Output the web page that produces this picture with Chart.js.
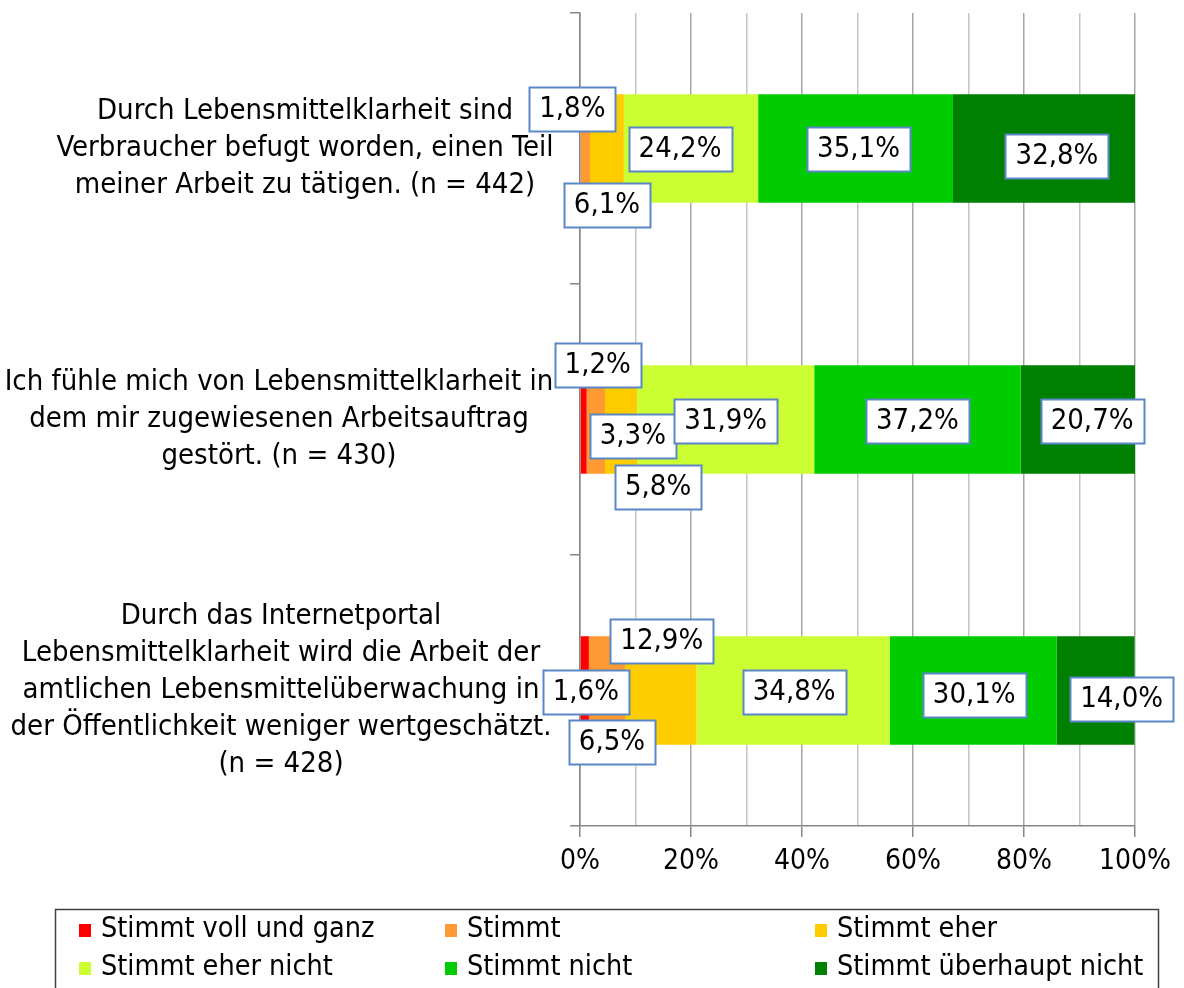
<!DOCTYPE html>
<html>
<head>
<meta charset="utf-8">
<script src="https://cdn.jsdelivr.net/npm/chart.js@4.4.1/dist/chart.umd.min.js"></script>
<style>
  body { margin: 0; background: #fff; }
  canvas { display: block; }
</style>
</head>
<body>
<canvas id="chart" width="1184" height="988"></canvas>
<script>
// Category labels (one line per array entry)
const categories = [
    ["Durch Lebensmittelklarheit sind", "Verbraucher befugt worden, einen Teil", "meiner Arbeit zu tätigen. (n = 442)"],
    ["Ich fühle mich von Lebensmittelklarheit in", "dem mir zugewiesenen Arbeitsauftrag", "gestört. (n = 430)"],
    ["Durch das Internetportal", "Lebensmittelklarheit wird die Arbeit der", "amtlichen Lebensmittelüberwachung in", "der Öffentlichkeit weniger wertgeschätzt.", "(n = 428)"]
];
const seriesNames = ["Stimmt voll und ganz", "Stimmt", "Stimmt eher", "Stimmt eher nicht", "Stimmt nicht", "Stimmt überhaupt nicht"];

// Percent values per answer, one entry per category
const stimmtVoll = [0, 1.2, 1.6];
const stimmt = [1.8, 3.3, 6.5];
const stimmtEher = [6.1, 5.8, 12.9];
const eherNicht = [24.2, 31.9, 34.8];
const stimmtNicht = [35.1, 37.2, 30.1];
const ueberhauptNicht = [32.8, 20.7, 14.0];

const xTickLabels = [0, 20, 40, 60, 80, 100];

// styling
const FONT = "'DejaVu Sans Condensed', 'Liberation Sans', sans-serif";
const colors = ["#FF0000", "#FF9933", "#FFCC00", "#CCFF33", "#00CC00", "#008000"];
// label box nudges [dx, dy] relative to segment centre (like moved Excel labels)
const labelNudge = [
    [[0, 0], [14, -55], [1, 1]],
    [[-13, -40], [37, 16], [5, 51]],
    [[0, 56], [37, 67], [1, -50]],
    [[-11, 0], [0, 1], [1, 1]],
    [[3, 0], [0, 1], [1, 4]],
    [[13, 7], [14, 1], [26, 8]]
];
// horizontal centre of each category label block
const categoryLabelCenterX = [305, 279, 281];

Chart.defaults.font.family = FONT;
Chart.defaults.color = "#000";

function formatPct(v) {
    return v.toFixed(1).replace('.', ',') + '%';
}

/**
 * Multi-line category labels, each block centred on its own x
 */
const categoryLabels = {
    id: 'categoryLabels',
    beforeDatasetsDraw(chart) {
        const ctx = chart.ctx;
        const yScale = chart.scales.y;
        const lineHeight = 37;
        ctx.save();
        ctx.font = '29px ' + FONT;
        ctx.fillStyle = '#000';
        ctx.textAlign = 'center';
        ctx.textBaseline = 'middle';
        chart.data.labels.forEach((lines, i) => {
            const cy = yScale.getPixelForValue(i);
            const top = cy - (lines.length - 1) * lineHeight / 2;
            lines.forEach((line, k) => {
                ctx.fillText(line, categoryLabelCenterX[i], top + k * lineHeight);
            });
        });
        ctx.restore();
    }
};

/**
 * Boxed value labels on top of bar segments
 */
const boxLabels = {
    id: 'boxLabels',
    afterDatasetsDraw(chart) {
        const ctx = chart.ctx;
        ctx.save();
        ctx.font = '29px ' + FONT;
        ctx.textAlign = 'center';
        ctx.textBaseline = 'middle';
        chart.data.datasets.forEach((ds, i) => {
            const meta = chart.getDatasetMeta(i);
            meta.data.forEach((bar, j) => {
                const v = ds.data[j];
                if (!v) return;
                const [dx, dy] = labelNudge[i][j];
                const cx = (bar.x + bar.base) / 2 + dx;
                const cy = bar.y + dy;
                const text = formatPct(v);
                const w = Math.round(ctx.measureText(text).width + 20);
                const h = 44;
                const left = Math.round(cx - w / 2) + 0.5;
                const top = Math.round(cy - h / 2) + 0.5;
                ctx.fillStyle = '#fff';
                ctx.fillRect(left, top, w, h);
                ctx.strokeStyle = '#5B87C6';
                ctx.lineWidth = 2;
                ctx.strokeRect(left, top, w, h);
                ctx.fillStyle = '#000';
                ctx.fillText(text, cx, cy + 1);
            });
        });
        ctx.restore();
    }
};

/**
 * Legend in a framed 3-column grid below the chart
 */
const gridLegend = {
    id: 'gridLegend',
    afterDraw(chart) {
        const ctx = chart.ctx;
        const colX = [79, 445, 815];
        const rowY = [930, 968];
        ctx.save();
        ctx.strokeStyle = '#404040';
        ctx.lineWidth = 1.5;
        ctx.strokeRect(55.5, 909.5, 1103, 100);
        ctx.font = '28.5px ' + FONT;
        ctx.textBaseline = 'middle';
        ctx.textAlign = 'left';
        chart.data.datasets.forEach((ds, i) => {
            const x = colX[i % 3];
            const y = rowY[Math.floor(i / 3)];
            ctx.fillStyle = ds.backgroundColor;
            ctx.fillRect(x, y - 6, 12, 13);
            ctx.fillStyle = '#000';
            ctx.fillText(ds.label, x + 22, y);
        });
        ctx.restore();
    }
};

const datasets = [stimmtVoll, stimmt, stimmtEher, eherNicht, stimmtNicht, ueberhauptNicht].map((values, i) => ({
    label: seriesNames[i],
    data: values,
    backgroundColor: colors[i],
    borderWidth: 0,
    barPercentage: 0.4,
    categoryPercentage: 1.0
}));

const ctx = document.getElementById('chart').getContext('2d');
new Chart(ctx, {
    type: 'bar',
    data: { labels: categories, datasets: datasets },
    plugins: [categoryLabels, boxLabels, gridLegend],
    options: {
        indexAxis: 'y',
        responsive: false,
        animation: false,
        layout: { padding: { top: 13, right: 49, bottom: 102, left: 0 } },
        plugins: {
            legend: { display: false },
            tooltip: { enabled: false }
        },
        scales: {
            x: {
                stacked: true,
                min: 0,
                max: 100,
                afterFit: scale => { scale.height = 60; scale.paddingLeft = 0; scale.paddingRight = 0; },
                border: { color: '#868686', width: 1.5 },
                grid: {
                    color: c => (c.tick && c.tick.value % 20 === 0) ? '#A6A6A6' : '#C4C4C4',
                    tickColor: c => xTickLabels.includes(c.tick.value) ? '#868686' : 'rgba(0,0,0,0)',
                    tickLength: 11,
                    lineWidth: 1.5
                },
                ticks: {
                    stepSize: 10,
                    autoSkip: false,
                    maxRotation: 0,
                    padding: 8,
                    font: { size: 28 },
                    callback: v => xTickLabels.includes(v) ? v + '%' : ''
                }
            },
            y: {
                stacked: true,
                afterFit: scale => { scale.width = 580; scale.paddingTop = 0; scale.paddingBottom = 0; },
                border: { color: '#868686', width: 1.5 },
                grid: {
                    drawOnChartArea: false,
                    offset: true,
                    tickLength: 10,
                    tickColor: '#868686',
                    lineWidth: 1.5
                },
                ticks: { display: false }
            }
        }
    }
});
</script>
</body>
</html>
